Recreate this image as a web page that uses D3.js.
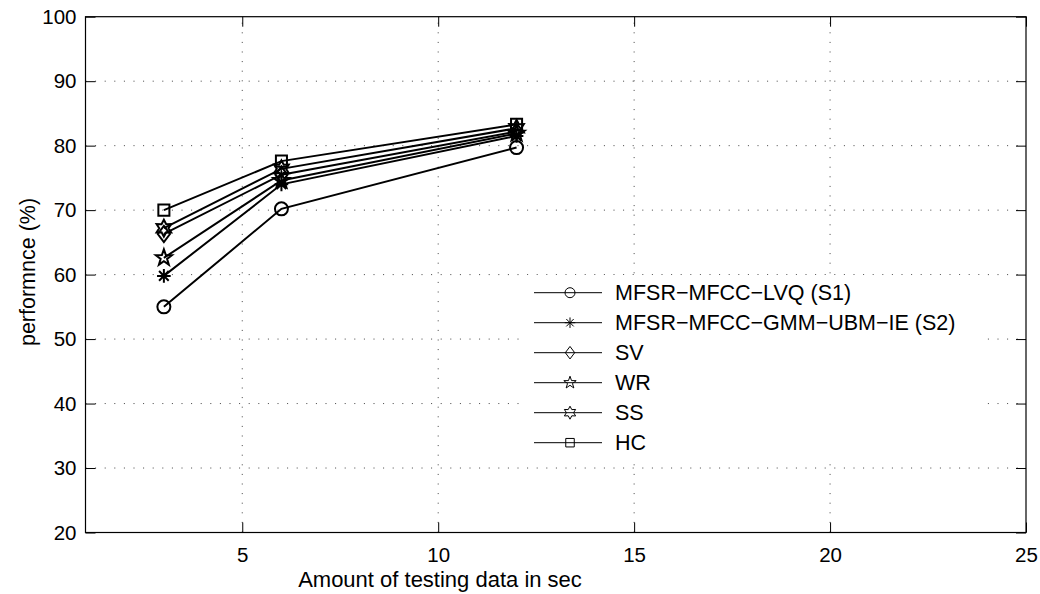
<!DOCTYPE html>
<html><head><meta charset="utf-8">
<script src="https://cdn.jsdelivr.net/npm/d3@7"></script>
<style>body{margin:0;background:#fff}svg{display:block}text{font-family:"Liberation Sans",Arial,sans-serif;fill:#000}</style>
</head><body><svg id="c" width="1040" height="594"></svg>
<script>
const xValues = [3, 6, 12];
const seriesNames = ["MFSR\u2212MFCC\u2212LVQ (S1)", "MFSR\u2212MFCC\u2212GMM\u2212UBM\u2212IE (S2)", "SV", "WR", "SS", "HC"];
const markers = ["circle", "asterisk", "diamond", "pentagram", "hexagram", "square"];
const s1 = [55.0, 70.2, 79.7];
const s2 = [59.8, 74.0, 81.5];
const sv = [66.3, 75.5, 82.2];
const wr = [62.6, 74.6, 81.9];
const ss = [67.2, 76.4, 82.7];
const hc = [70.0, 77.6, 83.3];
const seriesValues = [s1, s2, sv, wr, ss, hc];
const xTicks = [5, 10, 15, 20, 25];
const yTicks = [20, 30, 40, 50, 60, 70, 80, 90, 100];
const xLabel = "Amount of testing data in sec";
const yLabel = "performnce (%)";

const svg = d3.select("#c");
const L = 85.5, R = 1026, T = 16.7, B = 532.5;
const x = d3.scaleLinear().domain([1, 25]).range([L, R]);
const y = d3.scaleLinear().domain([20, 100]).range([B, T]);

// grid
const grid = svg.append("g").attr("stroke", "#444").attr("stroke-width", 1).attr("stroke-dasharray", "1,8.6");
xTicks.filter(t => t < 25).forEach(t => grid.append("line").attr("x1", x(t)).attr("x2", x(t)).attr("y1", B).attr("y2", T));
yTicks.filter(t => t > 20 && t < 100).forEach(t => grid.append("line").attr("x1", L).attr("x2", R).attr("y1", y(t)).attr("y2", y(t)));

// axes
const tk = 10;
const fs = 20.5;
const fsL = 21.5;
const axB = svg.append("g").attr("transform", `translate(0,${B})`).call(d3.axisBottom(x).tickValues(xTicks).tickSize(-tk).tickPadding(15).tickFormat(d3.format("d")));
const axT = svg.append("g").attr("transform", `translate(0,${T})`).call(d3.axisTop(x).tickValues(xTicks).tickSize(-tk).tickFormat(""));
const axL = svg.append("g").attr("transform", `translate(${L},0)`).call(d3.axisLeft(y).tickValues(yTicks).tickSize(-tk).tickPadding(9).tickFormat(d3.format("d")));
const axR = svg.append("g").attr("transform", `translate(${R},0)`).call(d3.axisRight(y).tickValues(yTicks).tickSize(-tk).tickFormat(""));
[axB, axT, axL, axR].forEach(a => {
  a.selectAll("path.domain").remove();
  a.selectAll("line").attr("stroke", "#000").attr("stroke-width", 1);
  a.selectAll("text").attr("font-size", fs).attr("font-family", "Liberation Sans, Arial, sans-serif").attr("fill", "#000");
});
svg.append("rect").attr("x", L).attr("y", T).attr("width", R - L).attr("height", B - T).attr("fill", "none").attr("stroke", "#000").attr("stroke-width", 1.2);

// marker generator
function markerPath(type, s) {
  const p = d3.path();
  if (type === "circle") { p.moveTo(s, 0); p.arc(0, 0, s, 0, 2 * Math.PI); }
  else if (type === "square") { const h = s * 0.85; p.rect(-h, -h, 2 * h, 2 * h); }
  else if (type === "diamond") { const h = s * 1.25; p.moveTo(0, -h); p.lineTo(h * 0.75, 0); p.lineTo(0, h); p.lineTo(-h * 0.75, 0); p.closePath(); }
  else if (type === "asterisk") {
    const r = s * 1.05;
    for (let i = 0; i < 4; i++) { const a = i * Math.PI / 4; p.moveTo(-r * Math.sin(a), -r * Math.cos(a)); p.lineTo(r * Math.sin(a), r * Math.cos(a)); }
  }
  else if (type === "pentagram" || type === "hexagram") {
    const n = type === "pentagram" ? 5 : 6; const ro = s * 1.3, ri = type === "pentagram" ? ro * 0.4 : ro * 0.55;
    for (let i = 0; i < 2 * n; i++) { const a = -Math.PI / 2 + i * Math.PI / n; const r = i % 2 ? ri : ro; const px = r * Math.cos(a), py = r * Math.sin(a); i ? p.lineTo(px, py) : p.moveTo(px, py); }
    p.closePath();
  }
  return p.toString();
}

// series
const line = d3.line().x((d, i) => x(xValues[i])).y(d => y(d));
seriesValues.forEach((vals, k) => {
  const g = svg.append("g");
  g.append("path").attr("d", line(vals)).attr("fill", "none").attr("stroke", "#000").attr("stroke-width", 2);
  vals.forEach((v, i) => g.append("path").attr("transform", `translate(${x(xValues[i])},${y(v)})`).attr("d", markerPath(markers[k], 6.5)).attr("fill", "none").attr("stroke", "#000").attr("stroke-width", 2));
});

// legend
const lg = svg.append("g");
lg.append("rect").attr("x", 527).attr("y", 275).attr("width", 458).attr("height", 184).attr("fill", "#fff");
seriesNames.forEach((n, k) => {
  const yy = 292.7 + k * 30;
  lg.append("line").attr("x1", 534).attr("x2", 602).attr("y1", yy).attr("y2", yy).attr("stroke", "#000").attr("stroke-width", 1);
  lg.append("path").attr("transform", `translate(570,${yy})`).attr("d", markerPath(markers[k], 5)).attr("fill", "none").attr("stroke", "#000").attr("stroke-width", 1);
  lg.append("text").attr("x", 615).attr("y", yy).attr("dy", "0.35em").attr("font-size", fsL).text(n);
});

// labels
svg.append("text").attr("x", 440).attr("y", 587).attr("text-anchor", "middle").attr("font-size", 22).text(xLabel);
svg.append("text").attr("transform", "translate(27,272) rotate(-90)").attr("dy", "0.35em").attr("text-anchor", "middle").attr("font-size", fsL).text(yLabel);
</script></body></html>
